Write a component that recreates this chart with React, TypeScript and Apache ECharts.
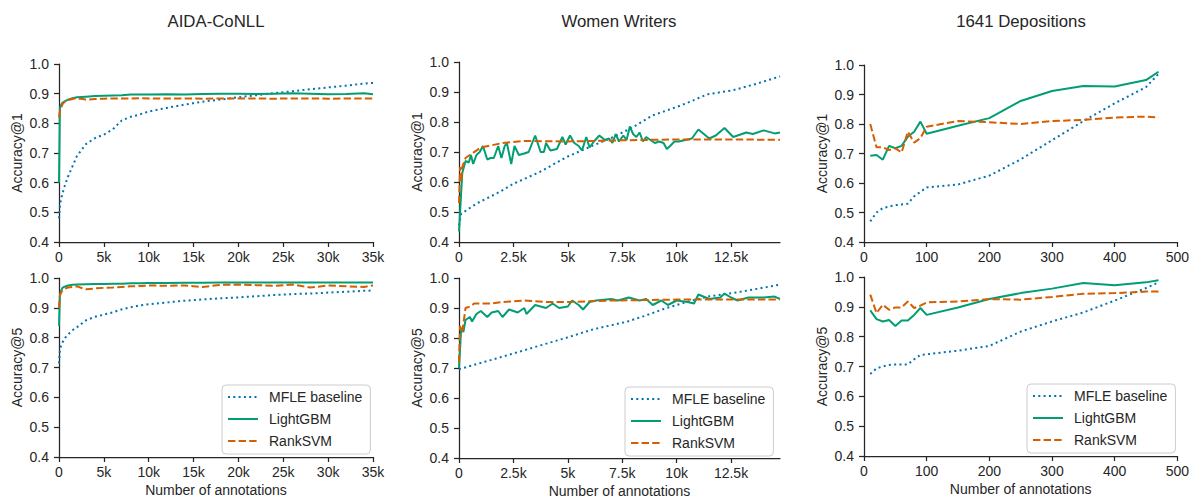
import React, { useEffect, useRef } from "react";
import * as echarts from "echarts";

// ---------- DATA ----------
const titles = ["AIDA-CoNLL", "Women Writers", "1641 Depositions"];
const seriesNames = ["MFLE baseline", "LightGBM", "RankSVM"];

// AIDA-CoNLL
const aidaX = [0, 100, 200, 400, 700, 1000, 1500, 2000, 3000, 4000, 5000, 6000, 7000, 8000, 9000, 10000, 12000, 14000, 16000, 18000, 20000, 22000, 24000, 26000, 28000, 30000, 32000, 34000, 35000];
const aidaMfle1 = [0.48, 0.52, 0.54, 0.565, 0.595, 0.62, 0.655, 0.69, 0.73, 0.75, 0.762, 0.78, 0.81, 0.822, 0.83, 0.84, 0.852, 0.863, 0.873, 0.88, 0.888, 0.895, 0.902, 0.908, 0.915, 0.921, 0.927, 0.934, 0.936];
const aidaLgbm1 = [0.6, 0.85, 0.86, 0.87, 0.875, 0.88, 0.885, 0.888, 0.89, 0.892, 0.893, 0.894, 0.895, 0.897, 0.897, 0.897, 0.898, 0.897, 0.899, 0.9, 0.9, 0.899, 0.9, 0.901, 0.9, 0.898, 0.899, 0.901, 0.898];
const aidaRank1 = [0.82, 0.84, 0.85, 0.865, 0.875, 0.878, 0.882, 0.885, 0.88, 0.882, 0.883, 0.884, 0.884, 0.884, 0.885, 0.884, 0.884, 0.884, 0.883, 0.884, 0.884, 0.884, 0.883, 0.884, 0.884, 0.883, 0.884, 0.884, 0.884];
const aidaMfle5 = [0.714, 0.755, 0.77, 0.785, 0.8, 0.81, 0.825, 0.835, 0.858, 0.87, 0.877, 0.885, 0.895, 0.902, 0.908, 0.912, 0.918, 0.924, 0.928, 0.932, 0.935, 0.939, 0.943, 0.946, 0.948, 0.951, 0.954, 0.957, 0.958];
const aidaLgbm5 = [0.84, 0.94, 0.955, 0.968, 0.972, 0.975, 0.977, 0.978, 0.979, 0.98, 0.98, 0.981, 0.981, 0.982, 0.982, 0.983, 0.983, 0.984, 0.984, 0.985, 0.985, 0.985, 0.985, 0.985, 0.985, 0.985, 0.985, 0.985, 0.985];
const aidaRank5 = [0.9, 0.94, 0.95, 0.958, 0.965, 0.968, 0.97, 0.972, 0.962, 0.965, 0.967, 0.968, 0.97, 0.972, 0.973, 0.975, 0.974, 0.975, 0.97, 0.977, 0.978, 0.976, 0.974, 0.978, 0.968, 0.975, 0.972, 0.97, 0.975];

// Women Writers
const wwMfleX1 = [0, 100, 800, 1870, 2500, 3700, 4940, 6170, 7100, 8000, 8900, 10000, 10600, 11400, 12600, 13700, 14750];
const wwMfle1 = [0.455, 0.494, 0.528, 0.567, 0.594, 0.633, 0.683, 0.722, 0.75, 0.783, 0.822, 0.85, 0.867, 0.892, 0.906, 0.928, 0.952];
const wwLgbmX1 = [0, 150, 300, 450, 550, 650, 800, 950, 1100, 1300, 1450, 1600, 1800, 1950, 2100, 2200, 2400, 2550, 2750, 3000, 3200, 3500, 3750, 3900, 4000, 4200, 4500, 4750, 4900, 5100, 5300, 5500, 5650, 5850, 6000, 6200, 6450, 6700, 6900, 7050, 7200, 7350, 7550, 7700, 7850, 8000, 8150, 8300, 8450, 8600, 8800, 9000, 9200, 9400, 9550, 9700, 9900, 10100, 10400, 10700, 11000, 11500, 11800, 12200, 12600, 13200, 13500, 14000, 14500, 14750];
const wwLgbm1 = [0.435, 0.63, 0.67, 0.665, 0.69, 0.66, 0.69, 0.7, 0.72, 0.675, 0.68, 0.68, 0.72, 0.68, 0.72, 0.73, 0.66, 0.72, 0.69, 0.695, 0.7, 0.755, 0.7, 0.7, 0.73, 0.705, 0.71, 0.75, 0.725, 0.755, 0.73, 0.72, 0.705, 0.75, 0.715, 0.735, 0.755, 0.74, 0.745, 0.73, 0.76, 0.735, 0.755, 0.74, 0.785, 0.76, 0.75, 0.765, 0.735, 0.75, 0.74, 0.73, 0.735, 0.73, 0.71, 0.72, 0.735, 0.735, 0.74, 0.745, 0.775, 0.745, 0.755, 0.78, 0.75, 0.765, 0.76, 0.772, 0.762, 0.765];
const wwRankX1 = [0, 50, 100, 150, 300, 500, 1000, 2000, 3000, 5000, 7500, 10000, 14750];
const wwRank1 = [0.53, 0.65, 0.6, 0.65, 0.68, 0.69, 0.715, 0.73, 0.737, 0.735, 0.739, 0.742, 0.741];
const wwMfleX5 = [0, 1870, 3400, 4940, 6170, 7700, 8500, 9540, 10600, 11500, 12600, 13700, 14750];
const wwMfle5 = [0.696, 0.735, 0.768, 0.801, 0.829, 0.854, 0.873, 0.9, 0.923, 0.939, 0.95, 0.964, 0.978];
const wwLgbmX5 = [0, 100, 200, 300, 500, 600, 800, 1000, 1300, 1500, 1800, 2000, 2300, 2700, 3000, 3100, 3500, 4000, 4300, 4600, 5000, 5200, 5500, 5700, 6000, 6300, 7000, 7300, 7800, 8300, 8600, 8900, 9300, 9600, 10000, 10500, 10800, 11000, 11500, 12000, 12200, 12500, 12800, 13300, 14000, 14500, 14750];
const wwLgbm5 = [0.7, 0.83, 0.82, 0.86, 0.87, 0.855, 0.88, 0.89, 0.87, 0.885, 0.89, 0.87, 0.895, 0.885, 0.9, 0.88, 0.91, 0.9, 0.915, 0.9, 0.905, 0.925, 0.91, 0.895, 0.92, 0.925, 0.93, 0.925, 0.935, 0.925, 0.93, 0.91, 0.925, 0.91, 0.925, 0.92, 0.915, 0.945, 0.93, 0.935, 0.948, 0.935, 0.925, 0.935, 0.935, 0.938, 0.93];
const wwRankX5 = [0, 50, 150, 300, 500, 700, 1500, 2000, 3000, 4000, 5000, 7000, 10000, 14750];
const wwRank5 = [0.72, 0.84, 0.82, 0.9, 0.905, 0.915, 0.915, 0.92, 0.925, 0.92, 0.92, 0.925, 0.928, 0.928];

// 1641 Depositions
const depX = [10, 20, 30, 40, 50, 60, 70, 80, 90, 100, 150, 200, 250, 300, 350, 400, 450, 470];
const depMfle1 = [0.47, 0.5, 0.515, 0.52, 0.525, 0.527, 0.53, 0.555, 0.57, 0.585, 0.595, 0.625, 0.68, 0.745, 0.81, 0.87, 0.925, 0.97];
const depLgbm1 = [0.692, 0.695, 0.679, 0.726, 0.718, 0.726, 0.757, 0.774, 0.808, 0.767, 0.794, 0.82, 0.878, 0.912, 0.929, 0.927, 0.949, 0.977];
const depRank1 = [0.8, 0.721, 0.721, 0.712, 0.718, 0.703, 0.774, 0.737, 0.752, 0.791, 0.81, 0.806, 0.8, 0.81, 0.814, 0.822, 0.825, 0.822];
const depMfle5 = [0.675, 0.694, 0.7, 0.705, 0.707, 0.707, 0.707, 0.724, 0.739, 0.741, 0.753, 0.769, 0.817, 0.851, 0.881, 0.921, 0.963, 0.982];
const depLgbm5 = [0.888, 0.859, 0.851, 0.856, 0.836, 0.854, 0.854, 0.873, 0.896, 0.873, 0.898, 0.926, 0.946, 0.961, 0.98, 0.972, 0.982, 0.989];
const depRank5 = [0.941, 0.879, 0.907, 0.89, 0.898, 0.898, 0.918, 0.896, 0.904, 0.915, 0.918, 0.926, 0.924, 0.933, 0.944, 0.946, 0.951, 0.951];

const wwTicks = [0, 2500, 5000, 7500, 10000, 12500];

// ---------- STYLE ----------
const FONT = "'Liberation Sans', Arial, sans-serif";
const INK = "#262626";
const COLORS = ["#0173b2", "#029e73", "#d55e00"];
const DASHES: any[] = [[2, 3.3], "solid", [7.4, 3.2]];

const grids = [
  { left: 59, top: 64, width: 314, height: 178 },
  { left: 459, top: 62, width: 321, height: 180 },
  { left: 864, top: 65, width: 315, height: 177 },
  { left: 59, top: 278, width: 314, height: 179 },
  { left: 459, top: 278, width: 321, height: 181 },
  { left: 864, top: 277, width: 315, height: 179 },
];

const kFmt = (v: number) => (v === 0 ? "0" : v / 1000 + "k");

const pairs = (xs: number[], ys: number[]) => xs.map((x, i) => [x, ys[i]]);

export default function App() {
  const ref = useRef<HTMLDivElement>(null);
  useEffect(() => {
    if (!ref.current) return;
    const chart = echarts.init(ref.current, null, { renderer: "svg" });

    const xDefs = [
      { max: 35000, interval: 5000, fmt: kFmt, custom: null },
      { max: 14750, interval: 2500, fmt: kFmt, custom: wwTicks },
      { max: 500, interval: 100, fmt: (v: number) => String(v), custom: null },
    ];

    const xAxis: any[] = [];
    const yAxis: any[] = [];
    for (let g = 0; g < 6; g++) {
      const col = g % 3;
      const row = Math.floor(g / 3);
      const d = xDefs[col];
      const ax: any = {
        type: "value",
        gridIndex: g,
        min: 0,
        max: d.max,
        interval: d.interval,
        splitLine: { show: false },
        axisLine: { show: true, lineStyle: { color: INK, width: 1.25 } },
        axisTick: { show: true, length: 5, lineStyle: { color: INK, width: 1.25 } },
        axisLabel: { color: INK, fontSize: 14, fontFamily: FONT, margin: 8, formatter: d.fmt },
        name: row === 1 ? "Number of annotations" : "",
        nameLocation: "middle",
        nameGap: 26,
        nameTextStyle: { color: INK, fontSize: 14, fontFamily: FONT },
      };
      if (d.custom) {
        ax.axisLabel.customValues = d.custom;
        ax.axisTick.customValues = d.custom;
      }
      xAxis.push(ax);
      yAxis.push({
        type: "value",
        gridIndex: g,
        min: 0.4,
        max: 1.0,
        interval: 0.1,
        splitLine: { show: false },
        axisLine: { show: true, lineStyle: { color: INK, width: 1.25 } },
        axisTick: { show: true, length: 5, lineStyle: { color: INK, width: 1.25 } },
        axisLabel: { color: INK, fontSize: 14, fontFamily: FONT, margin: 10, formatter: (v: number) => v.toFixed(1) },
        name: row === 0 ? "Accuracy@1" : "Accuracy@5",
        nameLocation: "middle",
        nameGap: 35,
        nameTextStyle: { color: INK, fontSize: 14, fontFamily: FONT },
      });
    }

    const panelData: number[][][][] = [
      [pairs(aidaX, aidaMfle1), pairs(aidaX, aidaLgbm1), pairs(aidaX, aidaRank1)],
      [pairs(wwMfleX1, wwMfle1), pairs(wwLgbmX1, wwLgbm1), pairs(wwRankX1, wwRank1)],
      [pairs(depX, depMfle1), pairs(depX, depLgbm1), pairs(depX, depRank1)],
      [pairs(aidaX, aidaMfle5), pairs(aidaX, aidaLgbm5), pairs(aidaX, aidaRank5)],
      [pairs(wwMfleX5, wwMfle5), pairs(wwLgbmX5, wwLgbm5), pairs(wwRankX5, wwRank5)],
      [pairs(depX, depMfle5), pairs(depX, depLgbm5), pairs(depX, depRank5)],
    ];

    const series: any[] = [];
    panelData.forEach((sets, g) => {
      sets.forEach((data, s) => {
        series.push({
          type: "line",
          name: seriesNames[s],
          xAxisIndex: g,
          yAxisIndex: g,
          data,
          symbol: "none",
          showSymbol: false,
          clip: true,
          color: COLORS[s],
          itemStyle: { color: COLORS[s] },
          lineStyle: { color: COLORS[s], width: 2, type: DASHES[s] },
          z: 2 + s,
        });
      });
    });

    const legendPos = [
      { left: 222, top: 385 },
      { left: 625, top: 387 },
      { left: 1027, top: 384 },
    ];
    const legend = legendPos.map((p) => ({
      ...p,
      orient: "vertical",
      data: seriesNames,
      itemWidth: 30,
      itemHeight: 12,
      itemGap: 8,
      padding: [5, 8, 6, 5],
      borderColor: "#cccccc",
      borderWidth: 1,
      borderRadius: 4,
      backgroundColor: "#ffffff",
      itemStyle: { opacity: 0, borderWidth: 0 },
      lineStyle: { opacity: 1 },
      textStyle: { color: INK, fontSize: 14, fontFamily: FONT, padding: [0, 0, 0, 6] },
      selectedMode: false,
    }));

    const titleX = [216, 619, 1021];
    const graphic = titles.map((t, i) => ({
      type: "text",
      x: titleX[i],
      y: 21,
      style: {
        text: t,
        fill: INK,
        fontSize: 16.8,
        fontFamily: FONT,
        textAlign: "center",
        textVerticalAlign: "middle",
      },
    }));

    chart.setOption({
      animation: false,
      backgroundColor: "#ffffff",
      grid: grids,
      xAxis,
      yAxis,
      series,
      legend,
      graphic,
    });

    return () => chart.dispose();
  }, []);

  return (
    <div
      ref={ref}
      style={{ position: "absolute", left: 0, top: 0, width: 1192, height: 499 }}
    />
  );
}
